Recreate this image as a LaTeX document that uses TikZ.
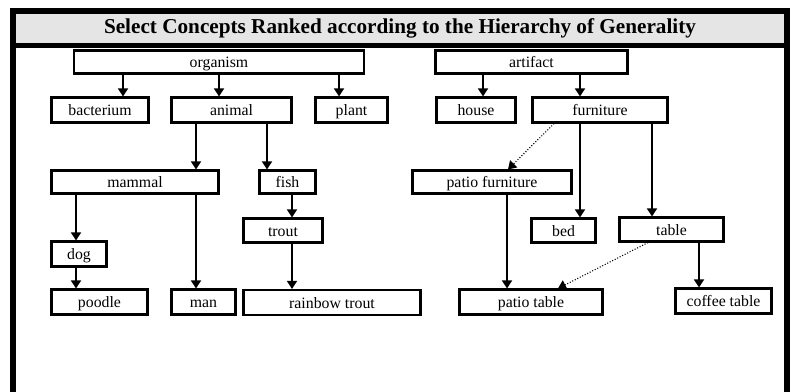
\documentclass[tikz,border=0pt]{standalone}
\usepackage{fontspec}
\setmainfont{Liberation Serif}
\usetikzlibrary{arrows.meta}

\tikzset{
  concept/.style={draw, line width=2.1pt, inner sep=0pt, text height=11pt, text depth=0pt, font=\fontsize{15.8}{18}\selectfont},
  isa/.style={line width=1.6pt, -{Triangle[length=8pt,width=10pt]}},
  partof/.style={line width=1.1pt, dash pattern=on 1pt off 1.8pt, -{Triangle[length=8pt,width=10pt]}},
}

\begin{document}
\begin{tikzpicture}[x=1pt,y=-1pt]
\def\wmax{794}
\def\hmax{391}
\useasboundingbox (0,0) rectangle (\wmax,\hmax);

\fill[black!10] (16,14) rectangle (784,43);
\draw[line width=6pt] (13,\hmax+5) -- (13,11) -- (787,11) -- (787,\hmax+5);
\draw[line width=5pt] (13,45.5) -- (787,45.5);
\node (title) at (400,28.5) {\fontsize{21.2}{24}\selectfont\bfseries Select Concepts Ranked according to the Hierarchy of Generality};

\node[concept, minimum width=290, minimum height=23] (organism) at (219,62) {organism};
\node[concept, minimum width=97, minimum height=25] (bacterium) at (100,110) {bacterium};
\node[concept, minimum width=120, minimum height=25] (animal) at (231.5,110) {animal};
\node[concept, minimum width=72, minimum height=25] (plant) at (351.5,110) {plant};
\node[concept, minimum width=167, minimum height=23] (mammal) at (135,182) {mammal};
\node[concept, minimum width=56, minimum height=23] (fish) at (287.5,182) {fish};
\node[concept, minimum width=55, minimum height=25] (dog) at (79,254) {dog};
\node[concept, minimum width=96, minimum height=25] (poodle) at (99.5,302) {poodle};
\node[concept, minimum width=64, minimum height=25] (man) at (203.5,302) {man};
\node[concept, minimum width=79, minimum height=24] (trout) at (283,230.5) {trout};
\node[concept, minimum width=177, minimum height=25] (rainbow) at (332,302.5) {rainbow trout};

\node[concept, minimum width=192, minimum height=23] (artifact) at (531.5,62) {artifact};
\node[concept, minimum width=79, minimum height=25] (house) at (476,110) {house};
\node[concept, minimum width=135, minimum height=25] (furniture) at (600,110) {furniture};
\node[concept, minimum width=159, minimum height=23] (patiofurn) at (492,182) {patio furniture};
\node[concept, minimum width=64, minimum height=24] (bed) at (563.5,230.5) {bed};
\node[concept, minimum width=104, minimum height=24] (table) at (671.5,229.5) {table};
\node[concept, minimum width=143, minimum height=25] (patiotable) at (531,302) {patio table};
\node[concept, minimum width=96, minimum height=25] (coffee) at (723.5,301) {coffee table};

\draw[isa] (123,0 |- organism.south) -- (123,0 |- bacterium.north);
\draw[isa] (219,0 |- organism.south) -- (219,0 |- animal.north);
\draw[isa] (339,0 |- organism.south) -- (339,0 |- plant.north);
\draw[isa] (196,0 |- animal.south) -- (196,0 |- mammal.north);
\draw[isa] (267,0 |- animal.south) -- (267,0 |- fish.north);
\draw[isa] (76,0 |- mammal.south) -- (76,0 |- dog.north);
\draw[isa] (196,0 |- mammal.south) -- (196,0 |- man.north);
\draw[isa] (76,0 |- dog.south) -- (76,0 |- poodle.north);
\draw[isa] (292,0 |- fish.south) -- (292,0 |- trout.north);
\draw[isa] (292,0 |- trout.south) -- (292,0 |- rainbow.north);

\draw[isa] (483,0 |- artifact.south) -- (483,0 |- house.north);
\draw[isa] (580,0 |- artifact.south) -- (580,0 |- furniture.north);
\draw[isa] (580,0 |- furniture.south) -- (580,0 |- bed.north);
\draw[isa] (652,0 |- furniture.south) -- (652,0 |- table.north);
\draw[isa] (507,0 |- patiofurn.south) -- (507,0 |- patiotable.north);
\draw[isa] (699,0 |- table.south) -- (699,0 |- coffee.north);
\draw[partof] (554,0 |- furniture.south) -- (508,0 |- patiofurn.north);
\draw[partof] (648,0 |- table.south) -- (558,0 |- patiotable.north);
\end{tikzpicture}
\end{document}
